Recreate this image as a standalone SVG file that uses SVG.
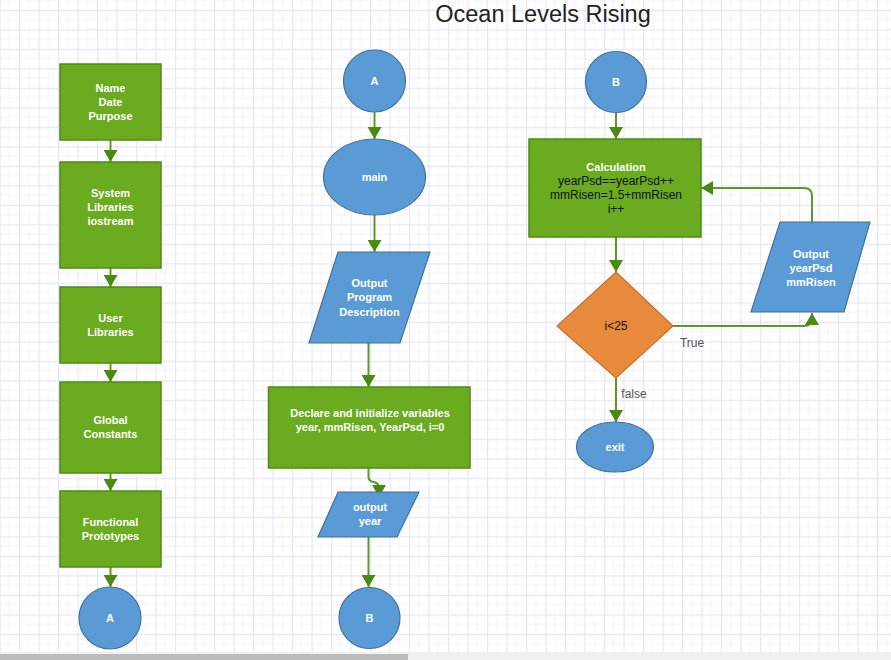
<svg xmlns="http://www.w3.org/2000/svg" width="891" height="660" viewBox="0 0 891 660">
<defs>
<pattern id="grid" x="-0.5" y="9.8" width="19.5" height="19.5" patternUnits="userSpaceOnUse">
<path d="M9.75,0 V19.5 M0,9.75 H19.5" stroke="#f3f3fd" stroke-width="1" fill="none"/>
<path d="M0.5,0 V19.5 M0,0.5 H19.5" stroke="#e6e6fa" stroke-width="1.3" fill="none"/>
</pattern>
<marker id="ah" markerWidth="14" markerHeight="14" viewBox="0 0 14 14" refX="12" refY="7" orient="auto" markerUnits="userSpaceOnUse">
<path d="M0,0 L12,7 L0,14 Z" fill="#4a8a12"/>
</marker>
</defs>
<style>
.proc{fill:#6aab1f;stroke:#4f8a14;stroke-width:1.5}
.io{fill:#5b9bd5;stroke:#41719c;stroke-width:1.2}
.dec{fill:#e88a3c;stroke:#c87128;stroke-width:1.2}
.wt{font-family:"Liberation Sans",Arial,sans-serif;font-size:11px;font-weight:bold;fill:#ffffff;text-anchor:middle}
.bt{font-family:"Liberation Sans",Arial,sans-serif;font-size:12px;fill:#111111;text-anchor:middle}
.lbl{font-family:"Liberation Sans",Arial,sans-serif;font-size:12px;fill:#555555;text-anchor:middle}
.con{fill:none;stroke:#5a9a22;stroke-width:2;marker-end:url(#ah)}
</style>
<rect x="0" y="0" width="891" height="660" fill="#ffffff"/>
<rect x="0" y="0" width="891" height="652" fill="url(#grid)"/>
<rect x="0" y="652" width="891" height="8" fill="#f0f0f0"/>
<rect x="0" y="654" width="408" height="6" fill="#bcbcbc"/>

<text x="543" y="21.5" font-family="'Liberation Sans',Arial,sans-serif" font-size="23.5" fill="#222222" text-anchor="middle">Ocean Levels Rising</text>

<g id="connectors">
<path class="con" d="M110.5,140 V162"/>
<path class="con" d="M110.5,268 V287"/>
<path class="con" d="M110.5,363 V382"/>
<path class="con" d="M110.5,473 V491"/>
<path class="con" d="M110.5,567 V587"/>
<path class="con" d="M374.5,112 V139"/>
<path class="con" d="M374.5,215 V252"/>
<path class="con" d="M368.5,343 V387"/>
<path class="con" d="M368.5,468 V477 Q368.5,481 373.5,482 Q379,483 379,488 V497"/>
<path class="con" d="M368.5,537 V587"/>
<path class="con" d="M616,112 V139"/>
<path class="con" d="M616,237 V272"/>
<path class="con" d="M673,326 H804 Q812,326 812,318 V313"/>
<path class="con" d="M812,222 V196 Q812,188 804,188 H701"/>
<path class="con" d="M616,378 V422"/>
<text class="lbl" x="692" y="346.5">True</text>
<text class="lbl" x="634" y="397.5">false</text>
</g>

<g id="n-header"><rect class="proc" x="60" y="64" width="101" height="76"/>
<text class="wt" x="110.5" y="92">Name</text><text class="wt" x="110.5" y="106">Date</text><text class="wt" x="110.5" y="120">Purpose</text></g>
<g id="n-syslib"><rect class="proc" x="60" y="162" width="101" height="106"/>
<text class="wt" x="110.5" y="197">System</text><text class="wt" x="110.5" y="211">Libraries</text><text class="wt" x="110.5" y="225">iostream</text></g>
<g id="n-userlib"><rect class="proc" x="60" y="287" width="101" height="76"/>
<text class="wt" x="110.5" y="322">User</text><text class="wt" x="110.5" y="336">Libraries</text></g>
<g id="n-const"><rect class="proc" x="60" y="382" width="101" height="91"/>
<text class="wt" x="110.5" y="424">Global</text><text class="wt" x="110.5" y="438">Constants</text></g>
<g id="n-proto"><rect class="proc" x="60" y="491" width="101" height="76"/>
<text class="wt" x="110.5" y="525.5">Functional</text><text class="wt" x="110.5" y="540">Prototypes</text></g>
<g id="n-a1"><circle class="io" cx="110" cy="618" r="31"/><text class="wt" x="110" y="622">A</text></g>

<g id="n-a2"><circle class="io" cx="374.5" cy="81" r="31"/><text class="wt" x="374.5" y="85">A</text></g>
<g id="n-main"><ellipse class="io" cx="374.5" cy="177" rx="51" ry="38"/><text class="wt" x="374.5" y="181">main</text></g>
<g id="n-desc"><polygon class="io" points="338,252 430,252 400,343 309,343"/>
<text class="wt" x="369.5" y="287">Output</text><text class="wt" x="369.5" y="301">Program</text><text class="wt" x="369.5" y="315.5">Description</text></g>
<g id="n-declare"><rect class="proc" x="268.5" y="387" width="201.5" height="81"/>
<text class="wt" x="370" y="417">Declare and initialize variables</text><text class="wt" x="370" y="431">year, mmRisen, YearPsd, i=0</text></g>
<g id="n-outyear"><polygon class="io" points="338,492 419,492 397,537 318,537"/>
<text class="wt" x="370" y="510.5">output</text><text class="wt" x="370" y="525">year</text></g>
<g id="n-b1"><circle class="io" cx="369.5" cy="618" r="30.5"/><text class="wt" x="369.5" y="622">B</text></g>

<g id="n-b2"><circle class="io" cx="616" cy="82" r="30.5"/><text class="wt" x="616" y="86">B</text></g>
<g id="n-calc"><rect class="proc" x="529" y="139" width="172" height="98"/>
<text class="wt" x="616" y="171">Calculation</text><text class="bt" x="616" y="185">yearPsd==yearPsd++</text><text class="bt" x="616" y="199">mmRisen=1.5+mmRisen</text><text class="bt" x="616" y="213">i++</text></g>
<g id="n-dec"><polygon class="dec" points="616,272 673,326 616,378 557,326"/><text class="bt" x="616" y="330">i&lt;25</text></g>
<g id="n-outpsd"><polygon class="io" points="780,222 870,222 844,312 751,312"/>
<text class="wt" x="811" y="258">Output</text><text class="wt" x="811" y="272">yearPsd</text><text class="wt" x="811" y="286">mmRisen</text></g>
<g id="n-exit"><ellipse class="io" cx="615" cy="447" rx="38.5" ry="25"/><text class="wt" x="615" y="451">exit</text></g>
</svg>
